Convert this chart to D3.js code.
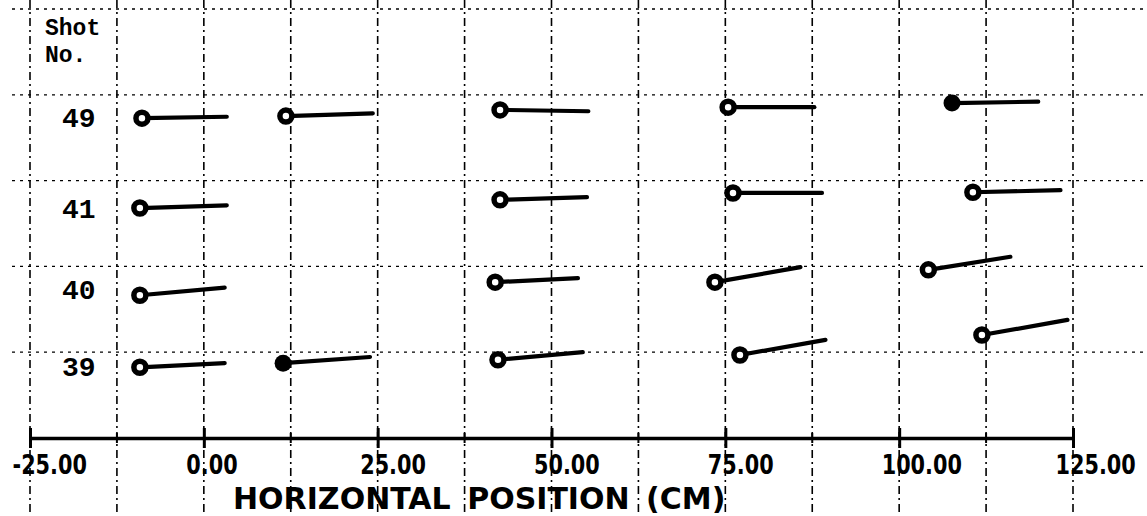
<!DOCTYPE html>
<html>
<head>
<meta charset="utf-8">
<script src="https://cdn.jsdelivr.net/npm/d3@7"></script>
<style>
  body { margin: 0; background: #fff; }
  svg { display: block; }
</style>
</head>
<body>
<div id="chart"></div>
<script>
// ## DATA ##
// x axis ticks (cm)
const xTicks = [-25, 0, 25, 50, 75, 100, 125];
const xTickLabels = ["-25.00", "0.00", "25.00", "50.00", "75.00", "100.00", "125.00"];
const xMinor = [-12.5, 12.5, 37.5, 62.5, 87.5, 112.5];
const gridRows = [12.5, 25, 37.5, 50, 62.5];

// shot rows and their vertical level (cm)
const shots = ["49", "41", "40", "39"];
const shotLevel = [46.8, 33.5, 21.7, 10.5];

// each trace: start point (circle) and end point, in cm
const startX = [
  [-8.9, 11.8, 42.6, 75.4, 107.6],
  [-9.2, 42.6, 76.1, 110.6],
  [-9.2, 41.9, 73.5, 104.2],
  [-9.2, 11.4, 42.3, 77.1, 111.9]
];
const startY = [
  [46.6, 46.9, 47.8, 48.2, 48.8],
  [33.5, 34.7, 35.7, 35.8],
  [20.8, 22.7, 22.7, 24.5],
  [10.3, 10.9, 11.4, 12.1, 15.0]
];
const endX = [
  [3.3, 24.3, 55.3, 87.8, 120.0],
  [3.3, 55.1, 88.9, 123.2],
  [3.0, 53.8, 85.8, 116.0],
  [3.0, 23.9, 54.5, 89.4, 124.2]
];
const endY = [
  [46.8, 47.3, 47.6, 48.2, 49.0],
  [33.9, 35.1, 35.7, 36.1],
  [21.9, 23.3, 24.9, 26.4],
  [10.9, 11.8, 12.5, 14.3, 17.2]
];
const filled = [
  [false, false, false, false, true],
  [false, false, false, false],
  [false, false, false, false],
  [false, true, false, false, false]
];

// ## CHART ##
const width = 1147, height = 516;

const x = d3.scaleLinear().domain([-25, 125]).range([30, 1073]);
const y = d3.scaleLinear().domain([0, 62.5]).range([438, 9]);

const svg = d3.select("#chart").append("svg")
    .attr("width", width)
    .attr("height", height)
    .attr("viewBox", [0, 0, width, height]);

// vertical dashed grid
svg.append("g")
  .selectAll("line")
  .data(xTicks.concat(xMinor))
  .join("line")
    .attr("x1", d => x(d)).attr("x2", d => x(d))
    .attr("y1", 0).attr("y2", height)
    .attr("stroke", "#000")
    .attr("stroke-width", 1.6)
    .attr("stroke-dasharray", "8,4,2,4");

// horizontal dotted grid
svg.append("g")
  .selectAll("line")
  .data(gridRows)
  .join("line")
    .attr("x1", 12).attr("x2", width)
    .attr("y1", d => y(d)).attr("y2", d => y(d))
    .attr("stroke", "#000")
    .attr("stroke-width", 1.3)
    .attr("stroke-dasharray", "3,5");

// x axis
const plotFont = "'DejaVu Sans', sans-serif";
const axis = svg.append("g")
    .attr("transform", `translate(0,${y(0)})`)
    .call(d3.axisBottom(x)
      .tickValues(xTicks)
      .tickFormat((d, i) => xTickLabels[i])
      .tickSizeOuter(0));

axis.select(".domain")
    .attr("stroke-width", 3.5);
axis.selectAll(".tick line")
    .attr("y1", -10).attr("y2", 10)
    .attr("stroke-width", 3);
axis.selectAll(".tick text")
    .attr("text-anchor", "start")
    .attr("x", 0)
    .attr("y", 0)
    .attr("dy", 0)
    .attr("transform", "translate(-18,36) scale(0.8,1)")
    .attr("font-family", plotFont)
    .attr("font-weight", "bold")
    .attr("font-size", 26)
    .attr("fill", "#000");

// minor ticks on the axis
axis.append("g")
  .selectAll("line")
  .data(xMinor)
  .join("line")
    .attr("x1", d => x(d)).attr("x2", d => x(d))
    .attr("y1", -5).attr("y2", 5)
    .attr("stroke", "#000")
    .attr("stroke-width", 2);

// axis title
svg.append("text")
    .attr("transform", "translate(233,509)")
    .attr("font-family", plotFont)
    .attr("font-weight", "bold")
    .attr("font-size", 30)
    .attr("word-spacing", 6)
    .text("HORIZONTAL POSITION (CM)");

// row header
const mono = "'Liberation Mono', 'DejaVu Sans Mono', monospace";
svg.append("text")
    .attr("x", 45).attr("y", 35)
    .attr("font-family", mono).attr("font-weight", "bold").attr("font-size", 23)
    .text("Shot");
svg.append("text")
    .attr("x", 45).attr("y", 62)
    .attr("font-family", mono).attr("font-weight", "bold").attr("font-size", 23)
    .text("No.");

// shot labels
svg.append("g")
  .selectAll("text")
  .data(shots)
  .join("text")
    .attr("x", 62)
    .attr("y", (d, i) => y(shotLevel[i]) + 10)
    .attr("font-family", mono)
    .attr("font-weight", "bold")
    .attr("font-size", 28)
    .text(d => d);

// traces
const traces = [];
shots.forEach((s, i) => {
  startX[i].forEach((v, j) => {
    traces.push({ shot: s, x0: v, y0: startY[i][j], x1: endX[i][j], y1: endY[i][j], filled: filled[i][j] });
  });
});

const tr = svg.append("g").selectAll("g").data(traces).join("g");

tr.append("line")
    .attr("x1", d => x(d.x0)).attr("y1", d => y(d.y0))
    .attr("x2", d => x(d.x1)).attr("y2", d => y(d.y1))
    .attr("stroke", "#000")
    .attr("stroke-width", 4.2)
    .attr("stroke-linecap", "round");

tr.append("circle")
    .attr("cx", d => x(d.x0)).attr("cy", d => y(d.y0))
    .attr("r", d => d.filled ? 8.5 : 6)
    .attr("fill", d => d.filled ? "#000" : "#fff")
    .attr("stroke", "#000")
    .attr("stroke-width", d => d.filled ? 0 : 5.5);
</script>
</body>
</html>
